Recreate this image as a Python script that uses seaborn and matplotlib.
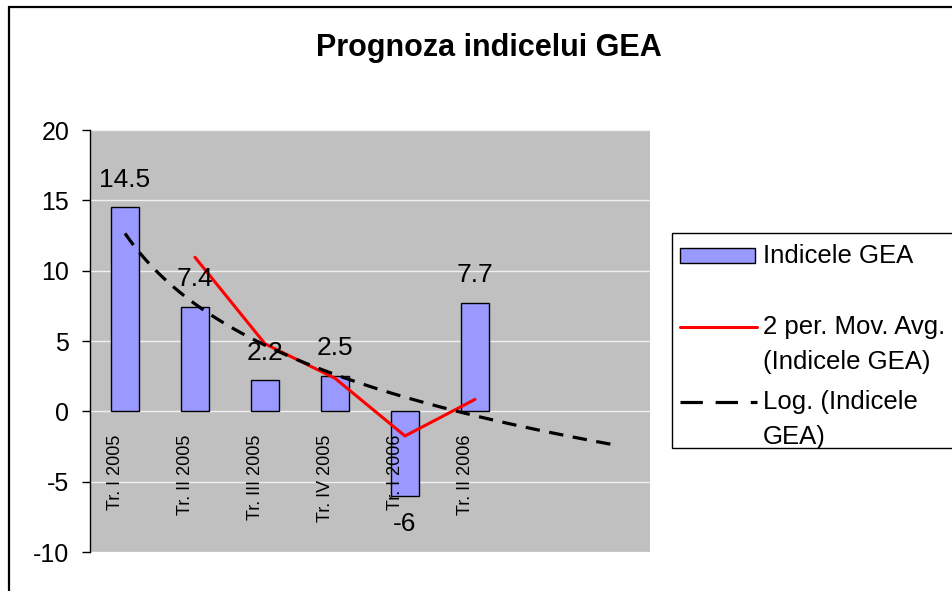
import numpy as np
import pandas as pd
import matplotlib.pyplot as plt
import seaborn as sns
from matplotlib.patches import Rectangle
from matplotlib.lines import Line2D

# Quarterly values of the GEA index
quarters = ['Tr. I 2005', 'Tr. II 2005', 'Tr. III 2005', 'Tr. IV 2005', 'Tr. I 2006', 'Tr. II 2006']
gea_values = [14.5, 7.4, 2.2, 2.5, -6, 7.7]
n_slots = 8  # the axis leaves room for two forecast quarters
y_ticks = [-10, -5, 0, 5, 10, 15, 20]

W, H = 952, 591


def fx(px):
    return px / W


def fy(py):
    return 1 - py / H


sns.set_theme(style='white')
plt.rcParams['font.family'] = ['Liberation Sans', 'DejaVu Sans']
plt.rcParams['text.color'] = 'black'
plt.rcParams['ytick.color'] = 'black'
plt.rcParams['xtick.color'] = 'black'

df = pd.DataFrame({'pos': np.arange(1, len(gea_values) + 1), 'value': gea_values, 'label': quarters})
df['mov_avg'] = df['value'].rolling(2).mean()

# logarithmic trend line, as the spreadsheet fits it: y = a*ln(x) + b
a, b = np.polyfit(np.log(df['pos']), df['value'], 1)
trend_x = np.linspace(1, n_slots, 200)
trend = pd.DataFrame({'x': trend_x, 'y': a * np.log(trend_x) + b})

fig = plt.figure(figsize=(W / 100, H / 100), dpi=100)
ax = fig.add_axes([fx(90), fy(552), fx(560), 422 / H])
ax.set_facecolor('#C0C0C0')

sns.barplot(data=df, x='pos', y='value', native_scale=True, width=0.4,
            color='#9999FF', edgecolor='black', linewidth=1, saturation=1,
            errorbar=None, ax=ax, zorder=3)
sns.lineplot(data=df.dropna(), x='pos', y='mov_avg', color='#FF0000', lw=2.2, ax=ax, zorder=4)
sns.lineplot(data=trend, x='x', y='y', color='black', lw=2.3, ax=ax, zorder=5,
             dashes=False, linestyle=(0, (4.5, 3)))

ax.set_xlim(0.5, n_slots + 0.5)
ax.set_ylim(-10, 20)
ax.set_yticks(y_ticks)
ax.set_yticklabels([str(t) for t in y_ticks], fontsize=18)
ax.set_xticks([])
ax.set_xlabel('')
ax.set_ylabel('')
ax.grid(axis='y', color='#F0F0F0', lw=1, zorder=0)
ax.set_axisbelow(True)
ax.tick_params(axis='y', left=True, length=6, width=1, color='black', pad=9)
for side in ['top', 'right', 'bottom']:
    ax.spines[side].set_visible(False)
ax.spines['left'].set_color('black')
ax.spines['left'].set_linewidth(1)

# value labels and category labels placed at the zero line
for _, row in df.iterrows():
    v = row['value']
    ax.annotate(f'{v:g}', (row['pos'], v), xytext=(0, 20 if v >= 0 else -20),
                textcoords='offset points', ha='center', va='center', fontsize=19, zorder=6)
    ax.annotate(row['label'], (row['pos'], 0), xytext=(-7, -17), textcoords='offset points',
                rotation=90, ha='center', va='top', fontsize=13, zorder=6)

fig.text(fx(489), fy(48), 'Prognoza indicelui GEA', ha='center', va='center',
         fontsize=22, fontweight='bold')

# outer chart border (cut at the right and bottom edges)
fig.patches.append(Rectangle((fx(9), fy(H + 20)), 1.1, fy(7) - fy(H + 20), transform=fig.transFigure,
                             fill=False, ec='black', lw=1.6))

# legend drawn like the spreadsheet one
fig.patches.append(Rectangle((fx(672), fy(448)), 1.0, fy(233) - fy(448), transform=fig.transFigure,
                             fill=True, fc='white', ec='black', lw=1))
fig.patches.append(Rectangle((fx(680), fy(263)), fx(75), 15 / H, transform=fig.transFigure,
                             fc='#9999FF', ec='black', lw=1))
fig.lines.append(Line2D([fx(680), fx(757)], [fy(327), fy(327)], transform=fig.transFigure,
                        color='#FF0000', lw=2.2))
fig.lines.append(Line2D([fx(680), fx(757)], [fy(402), fy(402)], transform=fig.transFigure,
                        color='black', lw=2.3, linestyle=(0, (7, 4))))
legend_lines = [('Indicele GEA', 256), ('2 per. Mov. Avg.', 327), ('(Indicele GEA)', 362),
                ('Log. (Indicele', 402), ('GEA)', 437)]
for txt, py in legend_lines:
    fig.text(fx(763), fy(py), txt, ha='left', va='center', fontsize=18.5)

fig.savefig('out.png', dpi=100)
